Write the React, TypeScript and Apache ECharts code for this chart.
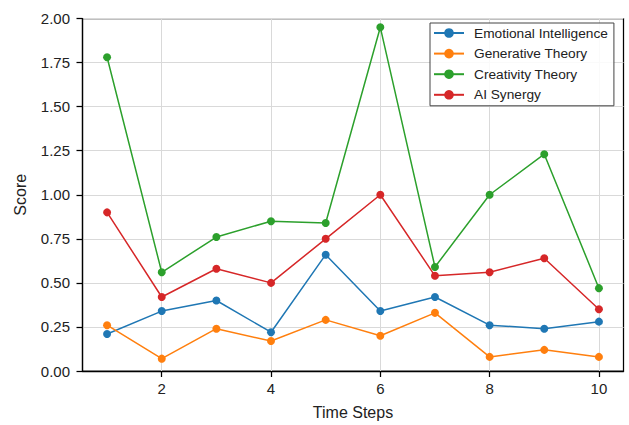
import React, { useEffect, useRef } from "react";
import * as echarts from "echarts";

const timeSteps = [1, 2, 3, 4, 5, 6, 7, 8, 9, 10];
const emotionalIntelligence = [0.21, 0.34, 0.40, 0.22, 0.66, 0.34, 0.42, 0.26, 0.24, 0.28];
const generativeTheory = [0.26, 0.07, 0.24, 0.17, 0.29, 0.20, 0.33, 0.08, 0.12, 0.08];
const creativityTheory = [1.78, 0.56, 0.76, 0.85, 0.84, 1.95, 0.59, 1.00, 1.23, 0.47];
const aiSynergy = [0.90, 0.42, 0.58, 0.50, 0.75, 1.00, 0.54, 0.56, 0.64, 0.35];
const xTicks = [2, 4, 6, 8, 10];

const seriesDefs = [
  { name: "Emotional Intelligence", data: emotionalIntelligence, color: "#1f77b4" },
  { name: "Generative Theory", data: generativeTheory, color: "#ff7f0e" },
  { name: "Creativity Theory", data: creativityTheory, color: "#2ca02c" },
  { name: "AI Synergy", data: aiSynergy, color: "#d62728" },
];

const FONT = "Liberation Sans, Arial, sans-serif";

export default function App() {
  const ref = useRef<HTMLDivElement>(null);
  useEffect(() => {
    if (!ref.current) return;
    const chart = echarts.init(ref.current, null, { renderer: "svg" });
    chart.setOption({
      animation: false,
      textStyle: { fontFamily: FONT },
      grid: {
        left: 82.5,
        top: 18.5,
        right: 5.5,
        bottom: 49,
        show: true,
        borderColor: "#000",
        borderWidth: 1.25,
        backgroundColor: "transparent",
      },
      legend: {
        orient: "vertical",
        left: 430,
        top: 23,
        itemWidth: 30,
        itemHeight: 12,
        itemGap: 6.6,
        padding: [3, 6, 4, 3],
        borderColor: "#444",
        borderWidth: 1,
        borderRadius: 0,
        backgroundColor: "rgba(255,255,255,0.85)",
        textStyle: { fontSize: 13.7, color: "#222", fontFamily: FONT, padding: [0, 0, 0, 5] },
        data: seriesDefs.map((s) => s.name),
      },
      xAxis: {
        type: "value",
        min: 0.55,
        max: 10.45,
        name: "Time Steps",
        nameLocation: "middle",
        nameGap: 33,
        nameTextStyle: { fontSize: 16, color: "#222", fontFamily: FONT },
        axisLine: { show: true, onZero: false, lineStyle: { color: "#000", width: 1.25 } },
        axisTick: { show: true, inside: false, length: 6, customValues: xTicks, lineStyle: { color: "#000", width: 1.25 } },
        axisLabel: { customValues: xTicks, fontSize: 15, color: "#222", margin: 10, fontFamily: FONT },
        splitLine: { show: true, lineStyle: { color: "#d9d9d9", width: 1 } },
      },
      yAxis: {
        type: "value",
        min: 0,
        max: 2,
        interval: 0.25,
        name: "Score",
        nameLocation: "middle",
        nameGap: 54,
        nameTextStyle: { fontSize: 16, color: "#222", fontFamily: FONT },
        axisLine: { show: true, lineStyle: { color: "#000", width: 1.25 } },
        axisTick: { show: true, inside: false, length: 6, lineStyle: { color: "#000", width: 1.25 } },
        axisLabel: {
          fontSize: 15,
          color: "#222",
          margin: 12.5,
          fontFamily: FONT,
          formatter: (v: number) => v.toFixed(2),
        },
        splitLine: { show: true, lineStyle: { color: "#d9d9d9", width: 1 } },
      },
      series: seriesDefs.map((s) => ({
        name: s.name,
        type: "line",
        data: timeSteps.map((t, i) => [t, s.data[i]]),
        symbol: "circle",
        symbolSize: 8,
        showSymbol: true,
        color: s.color,
        lineStyle: { color: s.color, width: 1.5 },
        itemStyle: { color: s.color },
        emphasis: { disabled: true },
      })),
    });
    return () => chart.dispose();
  }, []);
  return <div ref={ref} style={{ width: 629, height: 425, position: "absolute", left: 0, top: 0 }} />;
}
